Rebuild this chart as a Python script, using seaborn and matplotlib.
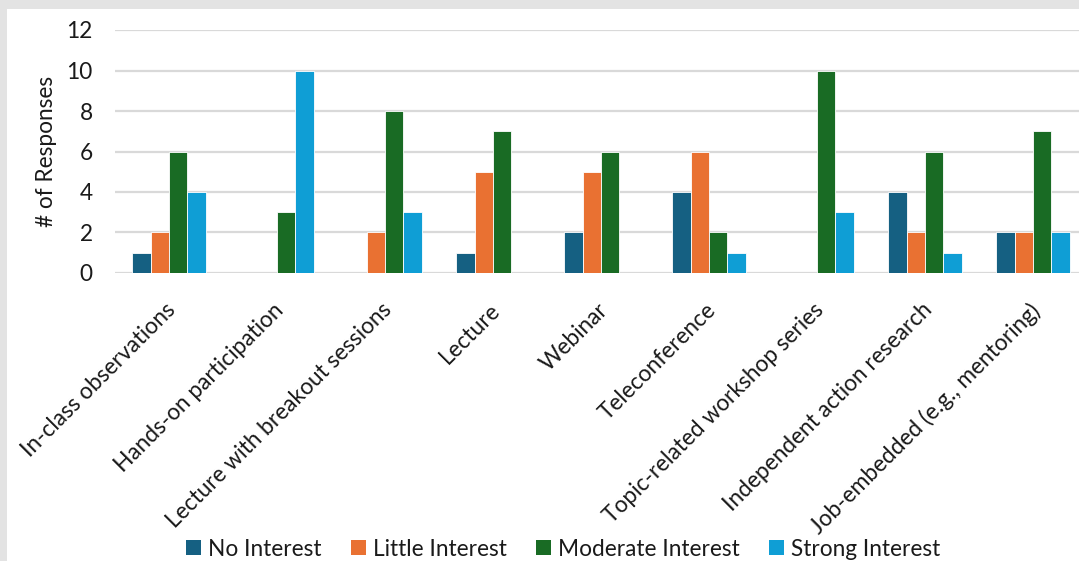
import matplotlib
matplotlib.use("Agg")
import matplotlib.pyplot as plt
import matplotlib.transforms as mtransforms
import seaborn as sns
import pandas as pd
from matplotlib.patches import Rectangle, Patch

categories = ["In-class observations", "Hands-on participation", "Lecture with breakout sessions",
              "Lecture", "Webinar", "Teleconference", "Topic-related workshop series",
              "Independent action research", "Job-embedded (e.g., mentoring)"]
series = ["No Interest", "Little Interest", "Moderate Interest", "Strong Interest"]
no_interest = [1, 0, 0, 1, 2, 4, 0, 4, 2]
little_interest = [2, 0, 2, 5, 5, 6, 0, 2, 2]
moderate_interest = [6, 3, 8, 7, 6, 2, 10, 6, 7]
strong_interest = [4, 10, 3, 0, 0, 1, 3, 1, 2]
y_ticks = [0, 2, 4, 6, 8, 10, 12]
colors = ["#156082", "#E97132", "#196B24", "#0F9ED5"]

rows = []
for s, vals in zip(series, [no_interest, little_interest, moderate_interest, strong_interest]):
    for c, v in zip(categories, vals):
        rows.append({"Method": c, "Interest": s, "Responses": v})
df = pd.DataFrame(rows)

sns.set_style("white")
plt.rcParams["font.family"] = ["Lato", "DejaVu Sans"]

FS = 16.3
W, H = 1079, 561
fig = plt.figure(figsize=(W / 100, H / 100), dpi=100)
fig.patch.set_facecolor("#e3e3e3")
bg = Rectangle((7 / W, 0), 1 - 7 / W, 1 - 9 / H, transform=fig.transFigure,
               facecolor="white", edgecolor="none", zorder=-10)
fig.patches.append(bg)

ax = fig.add_axes([115 / W, (H - 273) / H, 972 / W, 243 / H])
ax.set_facecolor("none")
sns.barplot(data=df, x="Method", y="Responses", hue="Interest", order=categories,
            hue_order=series, palette=colors, width=0.685, ax=ax,
            edgecolor="white", linewidth=0.6, saturation=1, legend=False)
for p in ax.patches:
    if p.get_height() == 0:
        p.set_visible(False)

ax.set_xlim(-0.5, len(categories) - 0.5)
ax.set_ylim(0, 12)
ax.set_yticks(y_ticks)
ax.set_axisbelow(True)
ax.yaxis.grid(True, color="#d9d9d9", linewidth=1.6)
for sp in ax.spines.values():
    sp.set_visible(False)
ax.tick_params(axis="y", length=0, pad=16, labelsize=FS, labelcolor="#1a1a1a")
ax.tick_params(axis="x", length=0, pad=19, labelsize=FS, labelcolor="#1a1a1a")
ax.set_xticks(range(len(categories)))
ax.set_xticklabels(categories, rotation=45, ha="right", rotation_mode="anchor")
offset = mtransforms.ScaledTranslation(-4 / 100, 0, fig.dpi_scale_trans)
for lab in ax.get_xticklabels():
    lab.set_transform(lab.get_transform() + offset)
ax.set_xlabel("")
ax.set_ylabel("# of Responses", fontsize=FS, color="#1a1a1a", labelpad=7)

handles = [Patch(facecolor=c, edgecolor="none") for c in colors]
fig.legend(handles, series, loc="lower center", bbox_to_anchor=(563 / W, -0.034), ncol=4,
           frameon=False, fontsize=FS, handlelength=0.66, handleheight=0.66,
           handletextpad=0.3, columnspacing=1.3, labelcolor="#1a1a1a")

fig.savefig("out.png", dpi=100, facecolor=fig.get_facecolor())
